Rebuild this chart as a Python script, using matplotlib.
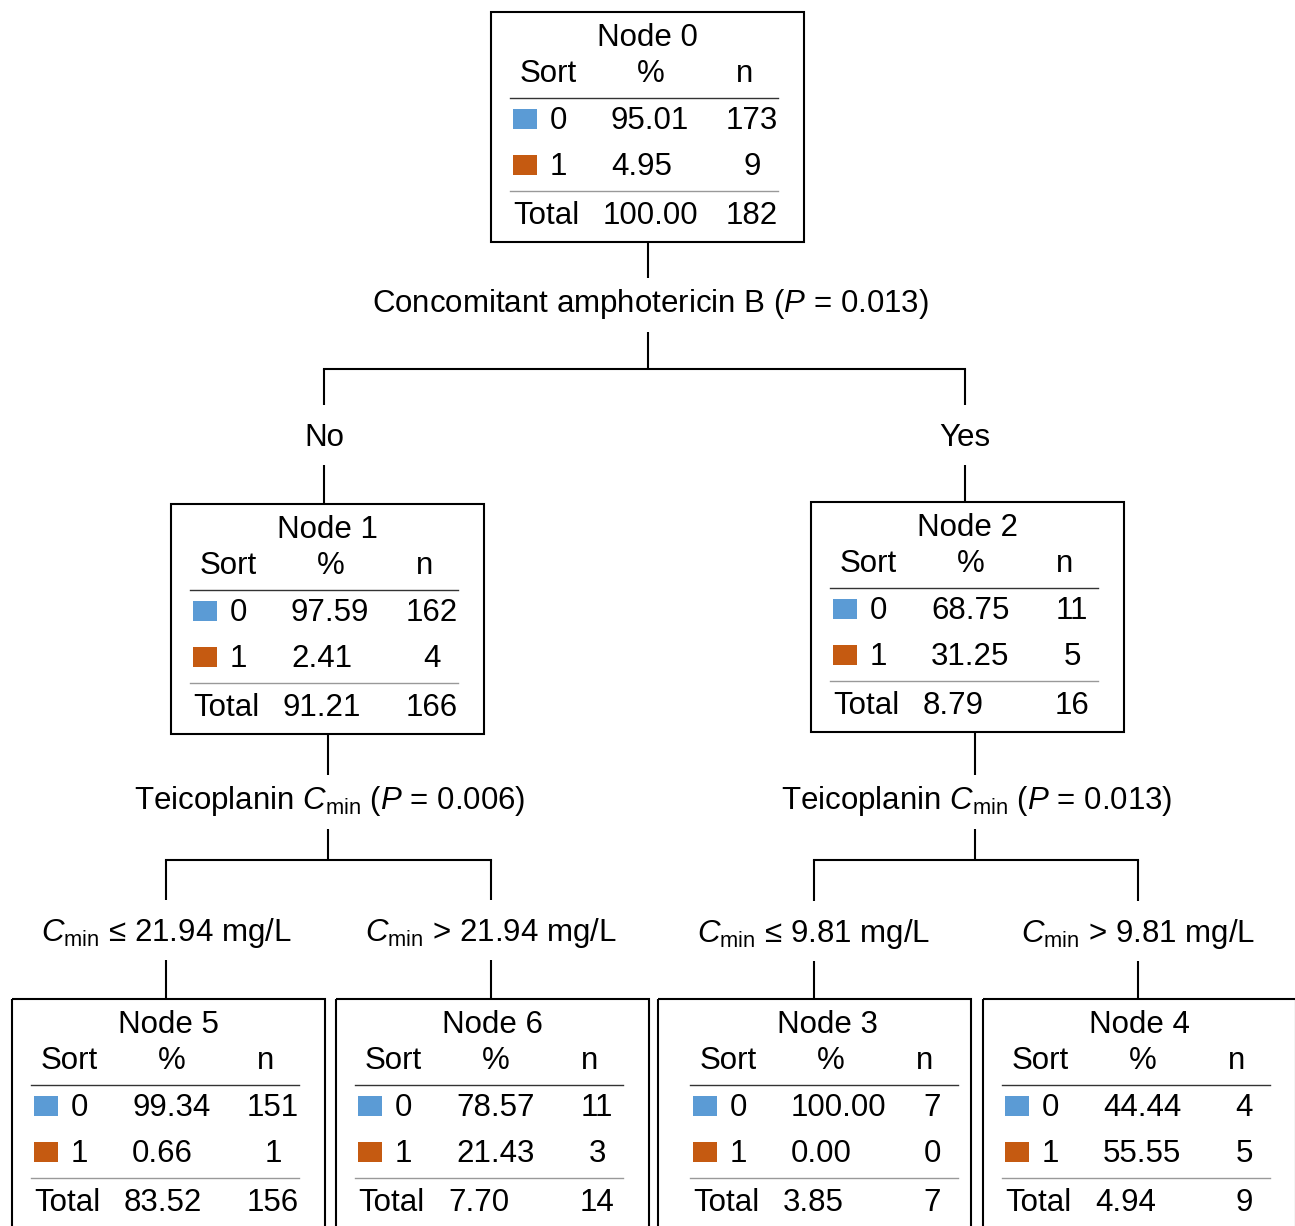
import matplotlib
matplotlib.use("Agg")
import matplotlib.pyplot as plt
from matplotlib.patches import Rectangle

plt.rcParams['font.family'] = ['Liberation Sans', 'DejaVu Sans']
plt.rcParams['mathtext.fontset'] = 'custom'
plt.rcParams['mathtext.rm'] = 'Liberation Sans'
plt.rcParams['mathtext.it'] = 'Liberation Sans:italic'

# node table data
node_names = ["Node 0", "Node 1", "Node 2", "Node 5", "Node 6", "Node 3", "Node 4"]
pct0 = [95.01, 97.59, 68.75, 99.34, 78.57, 100.00, 44.44]
pct1 = [4.95, 2.41, 31.25, 0.66, 21.43, 0.00, 55.55]
n0 = [173, 162, 11, 151, 11, 7, 4]
n1 = [9, 4, 5, 1, 3, 0, 5]
tot_pct = [100.00, 91.21, 8.79, 83.52, 7.70, 3.85, 4.94]
tot_n = [182, 166, 16, 156, 14, 7, 9]

# split labels
split_labels = ["Concomitant amphotericin B ($P$ = 0.013)",
                r"Teicoplanin $C_{\mathrm{min}}$ ($P$ = 0.006)",
                r"Teicoplanin $C_{\mathrm{min}}$ ($P$ = 0.013)"]
branch_labels = [["No", "Yes"],
                 [r"$C_{\mathrm{min}}$ ≤ 21.94 mg/L", r"$C_{\mathrm{min}}$ > 21.94 mg/L"],
                 [r"$C_{\mathrm{min}}$ ≤ 9.81 mg/L", r"$C_{\mathrm{min}}$ > 9.81 mg/L"]]

BLUE = "#5B9BD5"
ORANGE = "#C55A11"
FS = 22.5

# layout (pixel coords)
box_pos = [(491, 12), (171, 504), (811, 502), (12, 999), (336, 999), (658, 999), (983, 999)]
inner_shift = [0, 0, 0, 0, 0, 13, 0]
BW, BH = 313, 230

fig = plt.figure(figsize=(12.95, 12.26), dpi=100)
ax = fig.add_axes([0, 0, 1, 1])
ax.set_xlim(0, 1295)
ax.set_ylim(1226, 0)
ax.axis('off')


def txt(x, y, s, ha='center'):
    ax.text(x, y + 2, s, fontsize=FS, ha=ha, va='center')


def draw_node(i):
    bx, y = box_pos[i]
    ax.add_patch(Rectangle((bx, y), BW, BH, fill=False, ec='black', lw=1.5))
    x = bx + inner_shift[i]
    txt(x + BW / 2, y + 24, node_names[i])
    txt(x + 57, y + 60, "Sort")
    txt(x + 160, y + 60, "%")
    txt(x + 254, y + 60, "n")
    ax.plot([x + 19, x + 287], [y + 86, y + 86], color='#333333', lw=1)
    rows = [(BLUE, "0", pct0[i], n0[i], y + 107), (ORANGE, "1", pct1[i], n1[i], y + 153)]
    for col, lab, p, n, ry in rows:
        ax.add_patch(Rectangle((x + 22, ry - 10), 24, 20, color=col, lw=0))
        txt(x + 59, ry, lab, ha='left')
        txt(x + 120, ry, f"{p:.2f}", ha='left')
        txt(x + 261, ry, str(n))
    ax.plot([x + 19, x + 287], [y + 179, y + 179], color='#999999', lw=1)
    txt(x + 22, y + 202, "Total", ha='left')
    txt(x + 112, y + 202, f"{tot_pct[i]:.2f}", ha='left')
    txt(x + 261, y + 202, str(tot_n[i]))


def vline(x, y0, y1):
    ax.plot([x, x], [y0, y1], color='black', lw=1.5, solid_capstyle='butt')


def draw_split(px, ptop, label, ly, bar_y, child_xs, labels, cly, ctops):
    vline(px, ptop, ly - 24)
    txt(px + 2, ly, label)
    vline(px, ly + 30, bar_y)
    ax.plot([child_xs[0], child_xs[1]], [bar_y, bar_y], color='black', lw=1.5)
    for cx, lab, ct in zip(child_xs, labels, ctops):
        vline(cx, bar_y, cly - 31)
        txt(cx, cly, lab)
        vline(cx, cly + 29, ct)


for i in range(len(node_names)):
    draw_node(i)

draw_split(648, 242, split_labels[0], 302, 369, [324, 965], branch_labels[0], 436, [504, 502])
draw_split(328, 735, split_labels[1], 799, 860, [166, 491], branch_labels[1], 931, [999, 999])
draw_split(975, 733, split_labels[2], 799, 860, [814, 1138], branch_labels[2], 932, [999, 999])

fig.savefig("out.png", dpi=100, facecolor='white')
